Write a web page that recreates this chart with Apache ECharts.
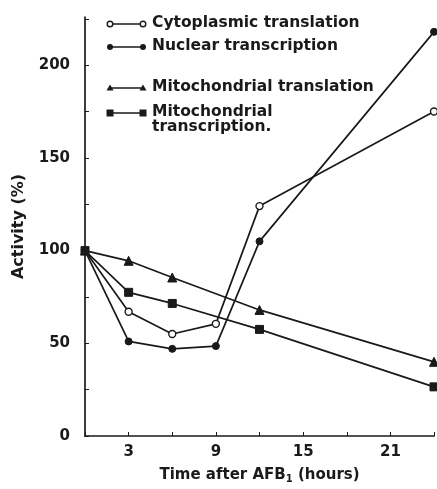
<!DOCTYPE html>
<html><head><meta charset="utf-8">
<script src="https://cdn.jsdelivr.net/npm/echarts@6/dist/echarts.min.js"></script>
<style>html,body{margin:0;padding:0;background:#fff}#c{width:437px;height:489px}</style>
</head><body><div id="c"></div>
<script>
const hours = [0, 3, 6, 9, 12, 24];
const cytoTranslation = [100, 67, 55, 60.5, 124, 175];
const nuclearTranscription = [100, 51, 47, 48.5, 105, 218];
const mitoHours = [0, 3, 6, 12, 24];
const mitoTranslation = [100, 94.5, 85.5, 68, 40];
const mitoTranscription = [100, 77.5, 71.5, 57.5, 26.5];
const yTicks = [0, 50, 100, 150, 200];
const xTicks = [3, 9, 15, 21];
const seriesNames = ['Cytoplasmic translation', 'Nuclear transcription', 'Mitochondrial translation', 'Mitochondrial\ntranscription.'];

const ink = '#1a1a1a';
const font = 'DejaVu Sans';
function pairs(xs, ys){ return xs.map((x,i)=>[x, ys[i]]); }

const chart = echarts.init(document.getElementById('c'), null, {renderer:'canvas'});
const lineBase = {type:'line', lineStyle:{color:ink, width:1.7}, itemStyle:{color:ink, borderColor:ink}, animation:false, z:3};

// legend drawing (decoration)
const legY = [24, 47, 88, 113];
const legSym = ['ocircle','circle','triangle','square'];
const graphics = [];
legY.forEach((y,i)=>{
  graphics.push({type:'line', shape:{x1:110,y1:y,x2:143,y2:y}, style:{stroke:ink, lineWidth:1.7}});
  [110,143].forEach(x=>{
    const s = legSym[i];
    if (s==='ocircle') graphics.push({type:'circle', shape:{cx:x,cy:y,r:2.8}, style:{fill:'#fff', stroke:ink, lineWidth:1.4}});
    else if (s==='circle') graphics.push({type:'circle', shape:{cx:x,cy:y,r:3}, style:{fill:ink}});
    else if (s==='triangle') graphics.push({type:'polygon', shape:{points:[[x,y-3.5],[x-3.5,y+2.5],[x+3.5,y+2.5]]}, style:{fill:ink}});
    else graphics.push({type:'rect', shape:{x:x-3.5,y:y-3.5,width:7,height:7}, style:{fill:ink}});
  });
  graphics.push({type:'text', x:152, y:y-9, style:{text:seriesNames[i], font:'bold 15.5px "'+font+'"', fill:ink, lineHeight:15}});
});

chart.setOption({
  backgroundColor:'#fff',
  animation:false,
  grid:{left:85, right:1, top:17, bottom:46, containLabel:false},
  xAxis:{type:'value', min:0, max:24, interval:3,
    name:'{a|Time after AFB}{s|1}{a| (hours)}', nameLocation:'middle', nameGap:30,
    nameTextStyle:{rich:{a:{fontFamily:font, fontSize:15, fontWeight:'bold', color:ink}, s:{fontFamily:font, fontSize:10, fontWeight:'bold', color:ink, verticalAlign:'bottom', padding:[8,0,0,0]}}},
    axisLine:{lineStyle:{color:ink, width:1.7}},
    axisTick:{inside:true, length:4, lineStyle:{color:ink}},
    splitLine:{show:false},
    axisLabel:{fontFamily:font, fontSize:15, fontWeight:'bold', color:ink, margin:9, formatter:v=>xTicks.includes(v)?String(v):''}
  },
  yAxis:{type:'value', min:0, max:226, interval:25,
    name:'Activity (%)', nameLocation:'middle', nameGap:58, nameRotate:90,
    nameTextStyle:{fontFamily:font, fontSize:16, color:ink, fontWeight:'bold'},
    axisLine:{show:true, lineStyle:{color:ink, width:1.7}},
    axisTick:{show:true, inside:true, length:4, lineStyle:{color:ink}},
    splitLine:{show:false},
    axisLabel:{fontFamily:font, fontSize:15, fontWeight:'bold', color:ink, margin:15, showMaxLabel:false, formatter:v=>yTicks.includes(v)?String(v):''}
  },
  graphic:graphics,
  series:[
    Object.assign({}, lineBase, {name:seriesNames[0], data:pairs(hours,cytoTranslation), symbol:'circle', symbolSize:7, itemStyle:{color:'#fff', borderColor:ink, borderWidth:1.4}}),
    Object.assign({}, lineBase, {name:seriesNames[1], data:pairs(hours,nuclearTranscription), symbol:'circle', symbolSize:7}),
    Object.assign({}, lineBase, {name:seriesNames[2], data:pairs(mitoHours,mitoTranslation), symbol:'triangle', symbolSize:9}),
    Object.assign({}, lineBase, {name:seriesNames[3], data:pairs(mitoHours,mitoTranscription), symbol:'rect', symbolSize:8})
  ]
});
</script></body></html>
